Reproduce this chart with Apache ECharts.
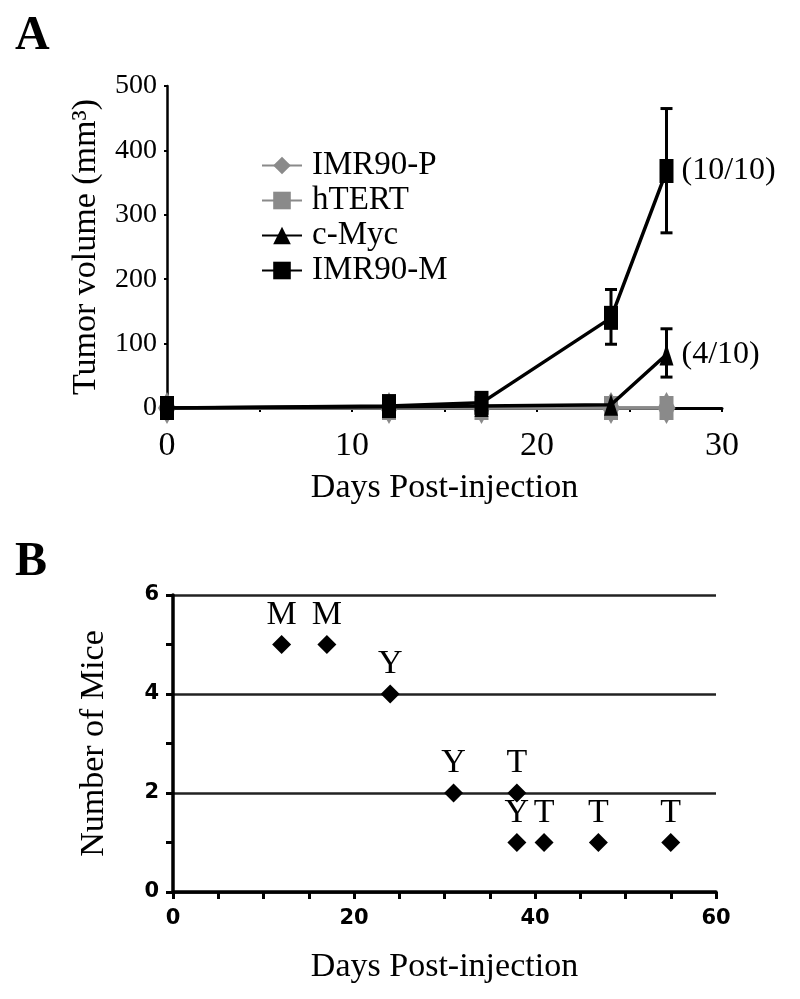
<!DOCTYPE html>
<html>
<head>
<meta charset="utf-8">
<script src="https://cdn.jsdelivr.net/npm/echarts@6/dist/echarts.min.js"></script>
<style>
html,body{margin:0;padding:0;background:#fff;}
#chart{width:800px;height:999px;}
</style>
</head>
<body>
<div id="chart"></div>
<script>
// ---- Panel A data ----
const daysA = [0, 12, 17, 24, 27];
const imr90P = [0, 0, 0, 0, 0];
const hTERT = [0, 0, 0, 0, 0];
const cMyc = [0, 2, 3, 5, 83];
const imr90M = [0, 3, 8, 140, 368];
const cMycErrLow = [null, null, null, null, 48];
const cMycErrHigh = [null, null, null, null, 123];
const imr90MErrLow = [null, null, null, 99, 272];
const imr90MErrHigh = [null, null, null, 184, 465];
const endLabels = { 'c-Myc': '(4/10)', 'IMR90-M': '(10/10)' };
const seriesNamesA = ['IMR90-P', 'hTERT', 'c-Myc', 'IMR90-M'];

// ---- Panel B data ----
const daysB = [12, 17, 24, 31, 38, 38, 41, 47, 55];
const miceB = [5, 5, 4, 2, 2, 1, 1, 1, 1];
const lettersB = ['M', 'M', 'Y', 'Y', 'T', 'Y', 'T', 'T', 'T'];

const SERIF = '"Liberation Serif", "Times New Roman", serif';
const SANS = '"DejaVu Sans", Verdana, sans-serif';
const GRAY = '#8a8a8a';
const BLACK = '#000';

function pairs(xs, ys, name) {
  return xs.map((x, i) => {
    const item = { value: [x, ys[i]] };
    if (i === xs.length - 1 && endLabels[name]) {
      item.label = { show: true, formatter: endLabels[name], position: 'right', distance: 8,
        fontFamily: SERIF, fontSize: 32, color: '#000' };
    }
    return item;
  });
}
function errData(xs, lo, hi) {
  const out = [];
  xs.forEach((x, i) => { if (lo[i] != null) out.push([x, lo[i], hi[i]]); });
  return out;
}
function errRender(params, api) {
  const x = api.value(0);
  const p1 = api.coord([x, api.value(1)]);
  const p2 = api.coord([x, api.value(2)]);
  const hw = 6;
  const st = { stroke: '#000', lineWidth: 3 };
  return { type: 'group', children: [
    { type: 'line', shape: { x1: p1[0], y1: p1[1], x2: p2[0], y2: p2[1] }, style: st },
    { type: 'line', shape: { x1: p1[0] - hw, y1: p1[1], x2: p1[0] + hw, y2: p1[1] }, style: st },
    { type: 'line', shape: { x1: p2[0] - hw, y1: p2[1], x2: p2[0] + hw, y2: p2[1] }, style: st }
  ]};
}

const chart = echarts.init(document.getElementById('chart'), null, { renderer: 'canvas' });

const option = {
  backgroundColor: '#fff',
  animation: false,
  title: [
    { text: 'A', left: 10, top: 8, textStyle: { fontFamily: SERIF, fontWeight: 'bold', fontSize: 48, color: '#000' } },
    { text: 'B', left: 10, top: 534, textStyle: { fontFamily: SERIF, fontWeight: 'bold', fontSize: 48, color: '#000' } }
  ],
  legend: {
    data: seriesNamesA,
    orient: 'vertical',
    left: 256,
    top: 144,
    itemWidth: 40,
    itemHeight: 22,
    itemGap: 2,
    textStyle: { fontFamily: SERIF, fontSize: 33, color: '#000', lineHeight: 32, padding: [0, 0, 0, 5] }
  },
  grid: [
    { left: 167, top: 86, right: 78, height: 322 },
    { left: 173, top: 595, right: 84, height: 297 }
  ],
  xAxis: [
    {
      gridIndex: 0, type: 'value', min: 0, max: 30, interval: 10,
      name: 'Days Post-injection', nameLocation: 'middle', nameGap: 63,
      nameTextStyle: { fontFamily: SERIF, fontSize: 34, color: '#000' },
      axisLine: { show: true, onZero: false, lineStyle: { color: '#000', width: 3 } },
      axisTick: { show: true, length: 4, lineStyle: { color: '#000', width: 2 } },
      minorTick: { show: true, splitNumber: 2, length: 4, lineStyle: { color: '#000', width: 2 } },
      axisLabel: { fontFamily: SERIF, fontSize: 34, color: '#000', margin: 21 },
      splitLine: { show: false }
    },
    {
      gridIndex: 1, type: 'value', min: 0, max: 60, interval: 20,
      name: 'Days Post-injection', nameLocation: 'middle', nameGap: 58,
      nameTextStyle: { fontFamily: SERIF, fontSize: 34, color: '#000' },
      axisLine: { show: true, onZero: false, lineStyle: { color: '#000', width: 3.5 } },
      axisTick: { show: true, length: 7, lineStyle: { color: '#000', width: 3 } },
      minorTick: { show: true, splitNumber: 4, length: 7, lineStyle: { color: '#000', width: 3 } },
      axisLabel: { fontFamily: SANS, fontWeight: 'bold', fontSize: 21, color: '#000', margin: 16 },
      splitLine: { show: false }
    }
  ],
  yAxis: [
    {
      gridIndex: 0, type: 'value', min: 0, max: 500, interval: 100,
      name: 'Tumor volume (mm³)', nameLocation: 'middle', nameGap: 64, nameRotate: 90,
      nameTextStyle: { fontFamily: SERIF, fontSize: 34, color: '#000' },
      axisLine: { show: true, lineStyle: { color: '#000', width: 2.5 } },
      axisTick: { show: true, length: 3, lineStyle: { color: '#000', width: 2 } },
      axisLabel: { fontFamily: SERIF, fontSize: 28, color: '#000', margin: 10 },
      splitLine: { show: false }
    },
    {
      gridIndex: 1, type: 'value', min: 0, max: 6, interval: 2,
      name: 'Number of Mice', nameLocation: 'middle', nameGap: 62, nameRotate: 90,
      nameTextStyle: { fontFamily: SERIF, fontSize: 34, color: '#000' },
      axisLine: { show: true, lineStyle: { color: '#000', width: 3.5 } },
      axisTick: { show: true, length: 7, lineStyle: { color: '#000', width: 3 } },
      minorTick: { show: true, splitNumber: 2, length: 7, lineStyle: { color: '#000', width: 3 } },
      axisLabel: { fontFamily: SANS, fontWeight: 'bold', fontSize: 21, color: '#000', margin: 14 },
      splitLine: { show: true, lineStyle: { color: '#222', width: 2.5 } }
    }
  ],
  series: [
    {
      name: 'IMR90-P', type: 'line', xAxisIndex: 0, yAxisIndex: 0,
      data: pairs(daysA, imr90P, 'IMR90-P'),
      symbol: 'diamond', symbolSize: [18, 32],
      itemStyle: { color: GRAY }, lineStyle: { color: GRAY, width: 3.5 }, z: 2
    },
    {
      name: 'hTERT', type: 'line', xAxisIndex: 0, yAxisIndex: 0,
      data: pairs(daysA, hTERT, 'hTERT'),
      symbol: 'rect', symbolSize: [14, 24],
      itemStyle: { color: GRAY }, lineStyle: { color: GRAY, width: 3.5 }, z: 3
    },
    {
      name: 'c-Myc', type: 'line', xAxisIndex: 0, yAxisIndex: 0,
      data: pairs(daysA, cMyc, 'c-Myc'),
      symbol: 'triangle', symbolSize: [14, 22],
      itemStyle: { color: BLACK }, lineStyle: { color: BLACK, width: 3.5 }, z: 4
    },
    {
      name: 'IMR90-M', type: 'line', xAxisIndex: 0, yAxisIndex: 0,
      data: pairs(daysA, imr90M, 'IMR90-M'),
      symbol: 'rect', symbolSize: [14, 24],
      itemStyle: { color: BLACK }, lineStyle: { color: BLACK, width: 3.5 }, z: 5
    },
    {
      name: 'c-Myc err', type: 'custom', xAxisIndex: 0, yAxisIndex: 0,
      data: errData(daysA, cMycErrLow, cMycErrHigh), renderItem: errRender, z: 6, silent: true
    },
    {
      name: 'IMR90-M err', type: 'custom', xAxisIndex: 0, yAxisIndex: 0,
      data: errData(daysA, imr90MErrLow, imr90MErrHigh), renderItem: errRender, z: 6, silent: true
    },
    {
      name: 'Mice', type: 'scatter', xAxisIndex: 1, yAxisIndex: 1,
      data: daysB.map((d, i) => [d, miceB[i]]),
      symbol: 'diamond', symbolSize: 19,
      itemStyle: { color: '#000', opacity: 1 },
      label: {
        show: true, position: 'top', distance: 3,
        formatter: p => lettersB[p.dataIndex],
        fontFamily: SERIF, fontSize: 34, color: '#000'
      },
      z: 5
    }
  ]
};
chart.setOption(option);
</script>
</body>
</html>
